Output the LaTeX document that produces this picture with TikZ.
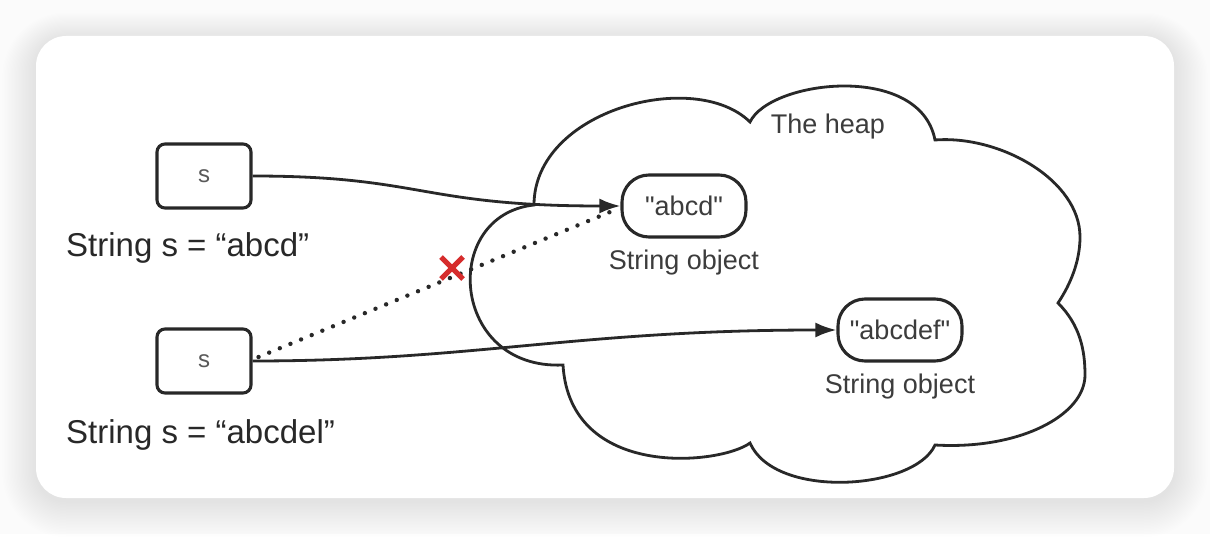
\documentclass[tikz,border=0pt]{standalone}
\usepackage{fontspec}
\setmainfont{Liberation Sans}
\usetikzlibrary{arrows.meta,positioning}
\definecolor{inkgray}{RGB}{40,40,40}
\definecolor{textgray}{RGB}{60,60,60}
\definecolor{crossred}{RGB}{214,44,44}

\begin{document}
\begin{tikzpicture}[x=1pt,y=-1pt,
            varbox/.style={draw=inkgray,line width=3.1pt,rounded corners=8pt,minimum width=94pt,minimum height=64pt,text=textgray!85,font=\fontsize{24}{28}\selectfont},
            objbox/.style={draw=inkgray,line width=3.1pt,rounded corners=27pt,minimum width=124pt,minimum height=62pt,text=textgray,font=\fontsize{27}{32}\selectfont},
            objlabel/.style={inner sep=0pt,text=textgray,font=\fontsize{27}{32}\selectfont},
            declabel/.style={inner sep=0pt,anchor=west,text=inkgray,font=\fontsize{33}{38}\selectfont},
            pointer/.style={draw=inkgray,line width=2.8pt,-{Latex[length=21pt,width=15pt]}},
            oldpointer/.style={draw=inkgray,line width=4.4pt,line cap=round,dash pattern=on 0pt off 11.5pt},
            heapline/.style={draw=inkgray,line width=2.8pt},
            crossmark/.style={draw=crossred,line width=5pt}
            ]
            \fill[gray!3] (0,0) rectangle (1210,534);
            \foreach \i in {1,...,24}
                \fill[black,opacity=0.0055,rounded corners={30+1.4*\i}]
                    ({36-1.4*\i},{36-1.1*\i+3}) rectangle ({1174+1.4*\i},{498+1.5*\i+3});
            \fill[white,rounded corners=30pt] (36,36) rectangle (1174,498);
            \draw[heapline] (534,205) .. controls (534,110) and (695,68) .. (750,122)
                .. controls (770,80) and (920,62) .. (935,140)
                .. controls (1000,135) and (1080,180) .. (1080,237)
                .. controls (1080,262) and (1070,285) .. (1058,303)
                .. controls (1080,325) and (1085,350) .. (1085,375)
                .. controls (1085,415) and (1020,450) .. (935,445)
                .. controls (915,490) and (775,500) .. (750,443)
                .. controls (720,465) and (570,480) .. (563,365)
                .. controls (450,370) and (440,215) .. cycle;
            \node[objlabel] (heap) at (828,127) {The heap};
            \node[varbox] (s1) at (204,176) {s};
            \node[varbox] (s2) at (204,361) {s};
            \node[declabel] (decl1) at (66,248) {String s = “abcd”};
            \node[declabel] (decl2) at (66,435) {String s = “abcdel”};
            \node[objbox,label={[objlabel,label distance=11pt]below:String object}] (abcd) at (684,206) {\textquotedbl abcd\textquotedbl};
            \node[objbox,label={[objlabel,label distance=11pt]below:String object}] (abcdef) at (900,330) {\textquotedbl abcdef\textquotedbl};
            \draw[oldpointer] ([shift={(6,-4)}]s2.east) -- ([shift={(-8,5)}]abcd.west);
            \coordinate (cross) at (452,268);
            \draw[crossmark] ([shift={(-11,-11)}]cross) -- ([shift={(11,11)}]cross)
                ([shift={(-11,11)}]cross) -- ([shift={(11,-11)}]cross);
            \draw[pointer] (s1.east) .. controls +(170,0) and +(-200,0) .. (abcd.west);
            \draw[pointer] (s2.east) .. controls +(220,0) and +(-260,0) .. (abcdef.west);
\end{tikzpicture}
\end{document}
